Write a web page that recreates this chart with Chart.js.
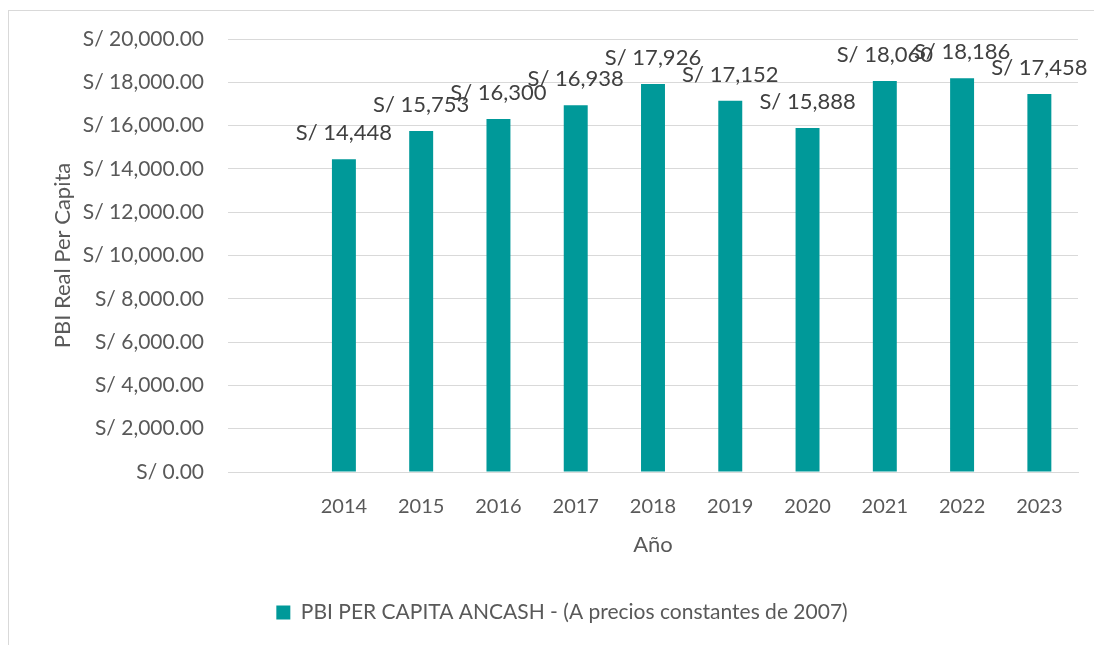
<!DOCTYPE html>
<html>
<head>
<meta charset="utf-8">
<script src="https://cdn.jsdelivr.net/npm/chart.js@4.4.0/dist/chart.umd.min.js"></script>
<style>
  html, body { margin: 0; padding: 0; background: #fff; }
  #wrap {
    position: absolute; left: 8px; top: 10px; width: 1100px; height: 650px;
    border-left: 1px solid #d9d9d9; border-top: 1px solid #d9d9d9;
  }
  #box { position: absolute; left: 0; top: 0; width: 1085px; height: 634px; }
</style>
</head>
<body>
<div id="wrap"><div id="box"><canvas id="chart"></canvas></div></div>
<script>
// Categorias (la primera va vacia, como en el grafico original)
const anios = ['', '2014', '2015', '2016', '2017', '2018', '2019', '2020', '2021', '2022', '2023'];
// PBI real per capita Ancash (soles constantes de 2007)
const pbiPerCapita = [null, 14448, 15753, 16300, 16938, 17926, 17152, 15888, 18060, 18186, 17458];
const serieNombre = 'PBI PER CAPITA ANCASH - (A precios constantes de 2007)';

const fuente = 'Lato, "Open Sans", sans-serif';

function soles(v, dec) {
    return 'S/ ' + Number(v).toLocaleString('en-US', { minimumFractionDigits: dec, maximumFractionDigits: dec });
}

// Etiquetas de datos encima de cada barra
const etiquetasPlugin = {
    id: 'etiquetas',
    afterDatasetsDraw(chart) {
        const ctx = chart.ctx;
        const meta = chart.getDatasetMeta(0);
        ctx.save();
        ctx.font = '22px ' + fuente;
        ctx.fillStyle = '#404040';
        ctx.textAlign = 'center';
        ctx.textBaseline = 'middle';
        meta.data.forEach(function(bar, i) {
            const v = pbiPerCapita[i];
            if (v == null) return;
            ctx.fillText(soles(v, 0), bar.x, bar.y - 26);
        });
        ctx.restore();
    }
};

const ctx = document.getElementById('chart').getContext('2d');
new Chart(ctx, {
    type: 'bar',
    data: {
        labels: anios,
        datasets: [{
            label: serieNombre,
            data: pbiPerCapita,
            backgroundColor: '#009999',
            borderWidth: 0,
            categoryPercentage: 1,
            barPercentage: 0.31
        }]
    },
    options: {
        responsive: true,
        maintainAspectRatio: false,
        animation: false,
        layout: { padding: { left: 37, right: 16, top: 28, bottom: 12 } },
        scales: {
            x: {
                grid: { display: false, drawTicks: false },
                border: { display: true, color: '#d9d9d9', width: 1 },
                ticks: { padding: 23, color: '#595959', font: { family: fuente, size: 20 } },
                title: {
                    display: true, text: 'Año', color: '#595959',
                    font: { family: fuente, size: 22 }, padding: { top: 0, bottom: 34 }
                },
                afterFit(scale) { scale.height = 120; }
            },
            y: {
                min: 0,
                max: 20000,
                grid: { color: '#d9d9d9', lineWidth: 1, drawTicks: false },
                border: { display: false },
                ticks: {
                    stepSize: 2000, padding: 24, color: '#595959',
                    font: { family: fuente, size: 21 },
                    callback: function(v) { return soles(v, 2); }
                },
                title: {
                    display: true, text: 'PBI Real Per Capita', color: '#595959',
                    font: { family: fuente, size: 22 }
                },
                afterFit(scale) {
                    scale.width = 182;
                    scale.paddingTop = 12;
                    scale.paddingBottom = 12;
                }
            }
        },
        plugins: {
            legend: {
                position: 'bottom',
                labels: {
                    boxWidth: 14, boxHeight: 14, color: '#595959',
                    font: { family: fuente, size: 21 }
                }
            },
            tooltip: { enabled: false }
        }
    },
    plugins: [etiquetasPlugin]
});
</script>
</body>
</html>
